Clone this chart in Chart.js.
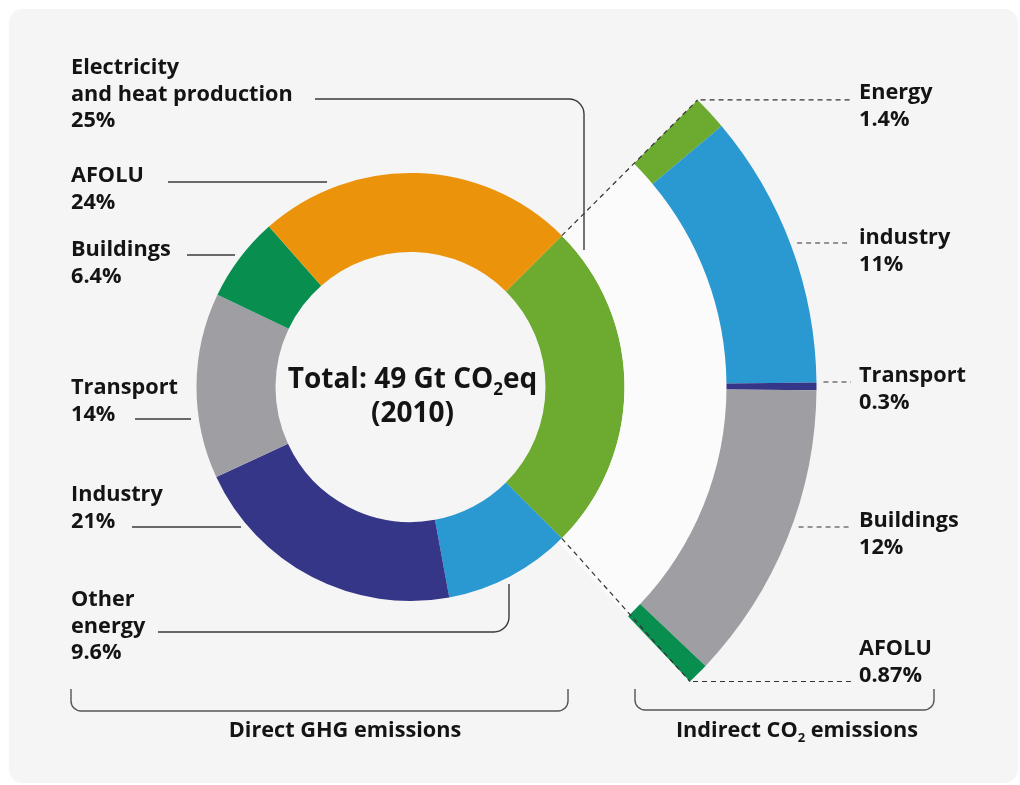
<!DOCTYPE html>
<html><head><meta charset="utf-8">
<script src="https://cdn.jsdelivr.net/npm/chart.js@4.4.1/dist/chart.umd.min.js"></script>
<style>html,body{margin:0;padding:0;background:#fff;}canvas{display:block;}</style>
</head><body>
<canvas id="c" width="1020" height="785"></canvas>
<script>
// ---- data ----
const directLabels = ['Electricity and heat production', 'Other energy', 'Industry', 'Transport', 'Buildings', 'AFOLU'];
const directValues = [25, 9.6, 21, 14, 6.4, 24];
const directColors = ['#6cab2f', '#2a98d1', '#363688', '#9f9ea2', '#088e4f', '#ec930c'];

const indirectLabels = ['Energy', 'industry', 'Transport', 'Buildings', 'AFOLU'];
const indirectValues = [1.4, 11, 0.3, 12, 0.87];
const indirectColors = ['#6cab2f', '#2a98d1', '#363688', '#9f9ea2', '#088e4f'];

const centerLines = ['Total: 49 Gt CO|2|eq', '(2010)'];
const groupTitles = ['Direct GHG emissions', 'Indirect CO|2| emissions'];

// ---- layout (annotation positions) ----
const FONT = '"Open Sans", "DejaVu Sans", sans-serif';
const LABEL_SIZE = 21.7;
const directText = [
  {i: 0, lines: ['Electricity', 'and heat production'], x: 71, y: 74},
  {i: 5, lines: ['AFOLU'], x: 71, y: 182},
  {i: 4, lines: ['Buildings'], x: 71, y: 256},
  {i: 3, lines: ['Transport'], x: 71, y: 394},
  {i: 2, lines: ['Industry'], x: 71, y: 501},
  {i: 1, lines: ['Other', 'energy'], x: 71, y: 606}
];
const directLeaders = [
  [[315, 99], [584, 99], [584, 250]],
  [[168, 182], [327, 182]],
  [[187, 255], [235, 255]],
  [[135, 419], [191, 419]],
  [[132, 527], [241, 527]],
  [[158, 632], [509, 632], [509, 584]]
];
const indirectText = [
  {y: 99, lineY: null},
  {y: 244, lineY: 243},
  {y: 382, lineY: 382},
  {y: 527, lineY: 527},
  {y: 655, lineY: null}
];

function fmt(v) { return v + '%'; }

function drawRich(ctx, str, cx, y, size, align, weight) {
  const parts = str.split('|');
  const big = weight + ' ' + size + 'px ' + FONT;
  const small = weight + ' ' + Math.round(size * 0.6) + 'px ' + FONT;
  let w = 0;
  parts.forEach((p, k) => { ctx.font = (k % 2) ? small : big; w += ctx.measureText(p).width; });
  let x = align === 'center' ? cx - w / 2 : cx;
  ctx.textAlign = 'left';
  parts.forEach((p, k) => {
    ctx.font = (k % 2) ? small : big;
    ctx.fillText(p, x, (k % 2) ? y + size * 0.24 : y);
    x += ctx.measureText(p).width;
  });
}

function polyRound(ctx, pts, r) {
  ctx.beginPath();
  ctx.moveTo(pts[0][0], pts[0][1]);
  for (let k = 1; k < pts.length - 1; k++) {
    ctx.arcTo(pts[k][0], pts[k][1], pts[k + 1][0], pts[k + 1][1], r);
  }
  ctx.lineTo(pts[pts.length - 1][0], pts[pts.length - 1][1]);
  ctx.stroke();
}

const annot = {
  id: 'annot',
  beforeDraw(chart) {
    const ctx = chart.ctx;
    ctx.save();
    ctx.fillStyle = '#ffffff';
    ctx.fillRect(0, 0, chart.width, chart.height);
    ctx.fillStyle = '#f5f5f5';
    ctx.beginPath();
    ctx.roundRect(9, 9, 1009, 774, 14);
    ctx.fill();
    ctx.restore();
  },
  afterDatasetsDraw(chart) {
    const ctx = chart.ctx;
    const ind = chart.getDatasetMeta(0).data;
    const dir = chart.getDatasetMeta(2).data;
    const cx = dir[0].x, cy = dir[0].y;
    const Rd = dir[0].outerRadius;
    const Ri = ind[0].outerRadius;
    const pt = (a, r) => [cx + r * Math.cos(a), cy + r * Math.sin(a)];
    ctx.save();

    // dashed radial connectors
    ctx.setLineDash([5, 4]);
    ctx.strokeStyle = '#333';
    ctx.lineWidth = 1.2;
    const aS = dir[0].startAngle, aE = dir[0].endAngle;
    const iS = ind[0].startAngle, iE = ind[ind.length - 1].endAngle;
    [[pt(aS, Rd), pt(iS, Ri)], [pt(aE, Rd), pt(iE, Ri)]].forEach(([p, q]) => {
      ctx.beginPath(); ctx.moveTo(p[0], p[1]); ctx.lineTo(q[0], q[1]); ctx.stroke();
    });

    // indirect leader lines (dashed)
    indirectText.forEach((t, k) => {
      let x0, y0;
      if (k === 0) { [x0, y0] = pt(iS, Ri); x0 += 3; }
      else if (k === indirectText.length - 1) { [x0, y0] = pt(iE, Ri); x0 += 3; }
      else { y0 = t.lineY; x0 = cx + Math.sqrt(Ri * Ri - (y0 - cy) * (y0 - cy)) + 7; }
      ctx.beginPath(); ctx.moveTo(x0, y0); ctx.lineTo(851, y0); ctx.stroke();
    });
    ctx.setLineDash([]);

    // direct leader lines (solid)
    ctx.strokeStyle = '#3a3a3a';
    ctx.lineWidth = 1.4;
    directLeaders.forEach(p => polyRound(ctx, p, 15));

    // braces
    ctx.strokeStyle = '#555';
    polyRound(ctx, [[71, 689], [71, 711], [568, 711], [568, 689]], 10);
    polyRound(ctx, [[635, 689], [635, 710], [934, 710], [934, 689]], 10);

    // labels
    ctx.fillStyle = '#141414';
    ctx.textBaseline = 'alphabetic';
    ctx.font = '700 ' + LABEL_SIZE + 'px ' + FONT;
    ctx.textAlign = 'left';
    directText.forEach(t => {
      const lines = t.lines.concat([fmt(directValues[t.i])]);
      lines.forEach((s, j) => ctx.fillText(s, t.x, t.y + j * 26.5));
    });
    indirectText.forEach((t, k) => {
      ctx.fillText(indirectLabels[k], 859, t.y);
      ctx.fillText(fmt(indirectValues[k]), 859, t.y + 26.5);
    });

    // center text
    drawRich(ctx, centerLines[0], cx + 2, 388, 28, 'center', 700);
    drawRich(ctx, centerLines[1], cx + 2, 422, 28, 'center', 700);

    // group titles
    drawRich(ctx, groupTitles[0], 345, 737, LABEL_SIZE, 'center', 700);
    drawRich(ctx, groupTitles[1], 797, 737, LABEL_SIZE, 'center', 700);
    ctx.restore();
  }
};

const ROT = 45, SPAN = 91.5;
new Chart(document.getElementById('c'), {
  type: 'doughnut',
  data: {
    labels: directLabels,
    datasets: [
      {label: 'Indirect CO2 emissions', data: indirectValues, backgroundColor: indirectColors,
       rotation: ROT, circumference: SPAN, weight: 90, borderWidth: 0},
      {label: 'gap', data: [1], backgroundColor: ['#fbfbfb'],
       rotation: ROT, circumference: SPAN, weight: 102, borderWidth: 0},
      {label: 'Direct GHG emissions', data: directValues, backgroundColor: directColors,
       rotation: ROT, circumference: 360, weight: 79, borderWidth: 0}
    ]
  },
  options: {
    responsive: false,
    animation: false,
    devicePixelRatio: 1,
    radius: 406,
    cutout: (135 / 406 * 100) + '%',
    layout: {padding: {left: 0, right: 199, top: 0, bottom: 11}},
    plugins: {legend: {display: false}, tooltip: {enabled: false}},
    events: []
  },
  plugins: [annot]
});
</script>
</body></html>
